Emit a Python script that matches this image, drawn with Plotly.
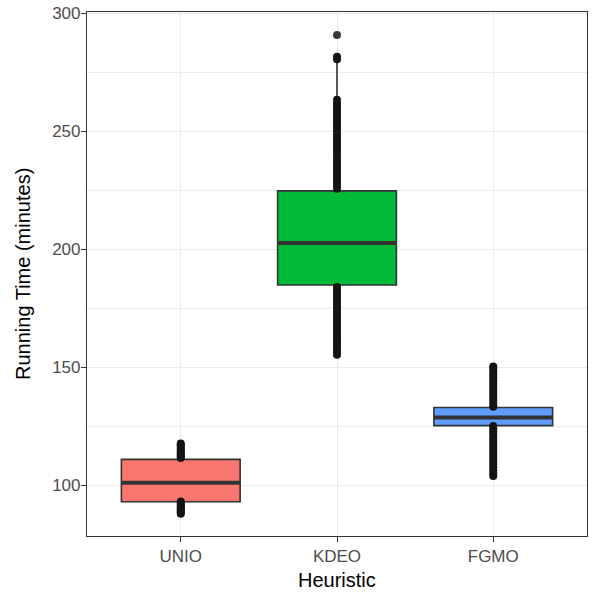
import plotly.graph_objects as go

# ---- data ----
categories = ["UNIO", "KDEO", "FGMO"]
fill_colors = ["#F8766D", "#00BA38", "#619CFF"]

q1 = [92.9, 184.8, 125.2]
median = [101.0, 202.6, 128.6]
q3 = [110.9, 224.7, 132.9]
lower_fence = [88.0, 155.2, 114.0]
upper_fence = [117.6, 281.6, 143.0]

unio_points = [117.6, 117.0, 116.3, 115.4, 114.6, 113.9, 113.2, 112.6, 112.0, 111.5,
               93.0, 92.2, 91.5, 90.8, 90.1, 89.5, 88.9, 88.3, 87.8]
kdeo_points = [155.2, 156.5, 157.9, 159.0, 160.4, 161.7, 163.0, 164.5, 165.8, 167.1,
               168.6, 169.9, 171.2, 172.8, 174.1, 175.5, 177.0, 178.3, 179.8, 181.2,
               182.6, 184.0,
               225.6, 227.0, 228.5, 229.9, 231.3, 232.8, 234.2, 235.7, 237.1, 238.6,
               240.0, 241.5, 242.9, 244.4, 245.8, 247.3, 248.7, 250.2, 251.6, 253.1,
               254.5, 256.0, 257.4, 258.9, 260.3, 261.8, 263.4,
               280.5, 281.6]
kdeo_outlier = [290.8]
fgmo_points = [103.8, 105.0, 106.3, 107.5, 108.8, 110.0, 111.3, 112.5, 113.8, 115.0,
               116.3, 117.5, 118.8, 120.0, 121.3, 122.5, 123.8, 125.0,
               133.2, 134.4, 135.7, 136.9, 138.2, 139.4, 140.7, 141.9, 143.2, 144.4,
               145.7, 146.9, 148.2, 149.4, 150.3]
point_sets = [unio_points, kdeo_points, fgmo_points]

y_ticks = [100, 150, 200, 250, 300]
y_minor = [125, 175, 225, 275]
box_width = 0.76

fig = go.Figure()

# data points (drawn below boxes)
for i, pts in enumerate(point_sets):
    fig.add_trace(go.Scatter(
        x=[i] * len(pts), y=pts, mode="markers",
        marker=dict(color="#141414", size=8, line=dict(width=0)),
        showlegend=False, hoverinfo="y"))
fig.add_trace(go.Scatter(
    x=[1] * len(kdeo_outlier), y=kdeo_outlier, mode="markers",
    marker=dict(color="#3a3a3a", size=8, line=dict(width=0)),
    showlegend=False, hoverinfo="y"))

# boxes
for i, cat in enumerate(categories):
    fig.add_trace(go.Box(
        x=[i], q1=[q1[i]], median=[median[i]], q3=[q3[i]],
        lowerfence=[lower_fence[i]], upperfence=[upper_fence[i]],
        fillcolor=fill_colors[i], line=dict(color="#333333", width=1.6),
        width=box_width, whiskerwidth=0, boxpoints=False,
        showlegend=False, name=cat))

# thick median lines (ggplot style)
for i in range(len(categories)):
    fig.add_shape(type="line", xref="x", yref="y",
                  x0=i - box_width / 2, x1=i + box_width / 2,
                  y0=median[i], y1=median[i],
                  line=dict(color="#333333", width=4), layer="above")

# axis titles as annotations
fig.add_annotation(text="Heuristic", xref="paper", yref="paper", x=0.5, y=0,
                   yshift=-44, xanchor="center", yanchor="middle", showarrow=False,
                   font=dict(size=20, color="black"))
fig.add_annotation(text="Running Time (minutes)", xref="paper", yref="paper", x=0, y=0.5,
                   xshift=-64, xanchor="center", yanchor="middle", showarrow=False,
                   textangle=-90, font=dict(size=20, color="black"))

fig.update_layout(
    width=600, height=600,
    margin=dict(l=87, r=13, t=12, b=64, autoexpand=False),
    paper_bgcolor="white", plot_bgcolor="white",
    font=dict(family="Liberation Sans, Arial, sans-serif"),
    xaxis=dict(
        range=[-0.6, 2.6], tickmode="array", tickvals=[0, 1, 2], ticktext=categories,
        showgrid=True, gridcolor="#EBEBEB", gridwidth=1.1, zeroline=False,
        showline=True, mirror=True, linecolor="#333333", linewidth=1.2,
        ticks="outside", ticklen=5, tickcolor="#333333", tickwidth=1.1,
        tickfont=dict(size=17, color="#4D4D4D"), automargin=False,
        ticklabelstandoff=-1,
    ),
    yaxis=dict(
        range=[78.4, 300.55], tickmode="array", tickvals=y_ticks,
        showgrid=True, gridcolor="#EBEBEB", gridwidth=1.1, zeroline=False,
        minor=dict(tickmode="array", tickvals=y_minor, showgrid=True,
                   gridcolor="#EBEBEB", gridwidth=0.6, ticks=""),
        showline=True, mirror=True, linecolor="#333333", linewidth=1.2,
        ticks="outside", ticklen=5, tickcolor="#333333", tickwidth=1.1,
        tickfont=dict(size=17, color="#4D4D4D"), automargin=False,
        ticklabelstandoff=-3,
    ),
)

fig.write_html("out.html")
